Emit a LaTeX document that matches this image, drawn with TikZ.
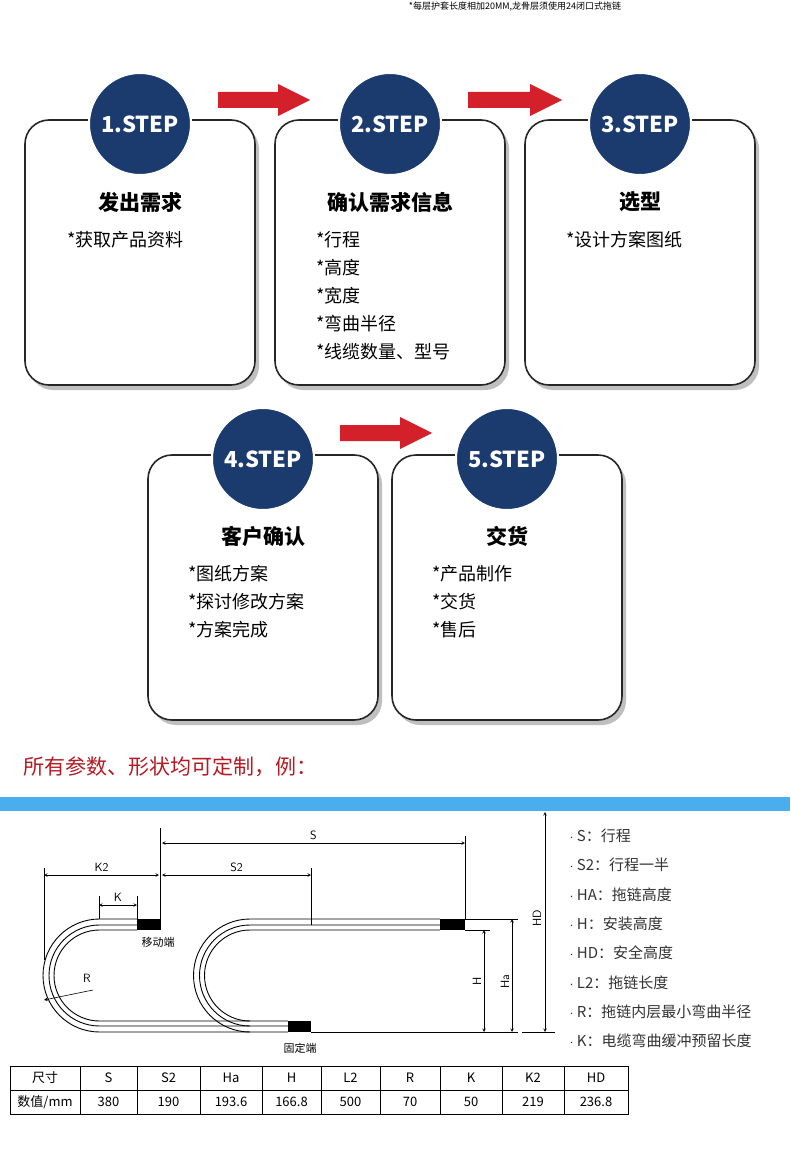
\documentclass[tikz,border=0pt]{standalone}
\usepackage{fontspec}
\setmainfont{Noto Sans CJK SC}
\usepackage{tikz}
\usetikzlibrary{positioning}
\definecolor{stepblue}{HTML}{1B3A6E}
\definecolor{arrowred}{HTML}{D4202A}
\definecolor{barblue}{HTML}{4AAEEE}
\definecolor{listgray}{HTML}{333333}
\tikzset{
  stepbox/.style={draw=black!85, line width=1.6pt, rounded corners=24pt, fill=white},
  stepshadow/.style={fill=black!25, rounded corners=24pt},
  stepcircle/.style={circle, fill=stepblue, draw=white, line width=2pt, minimum size=102pt,
    text=white, font=\fontsize{22}{24}\selectfont\bfseries},
  steptitle/.style={font=\fontsize{21}{24}\selectfont\bfseries},
  stepitem/.style={anchor=west, font=\fontsize{18}{20}\selectfont},
  dim/.style={line width=0.6pt, <->, >=stealth},
  ext/.style={line width=0.6pt},
  rail/.style={line width=0.9pt},
  dimlabel/.style={font=\fontsize{12}{13}\selectfont\sffamily},
  listitem/.style={anchor=west, text=listgray, font=\fontsize{15}{17}\selectfont},
  cell/.style={font=\fontsize{13}{14}\selectfont},
}
\begin{document}
\begin{tikzpicture}[x=1pt, y=-1pt]
  \useasboundingbox[fill=white] (0,0) rectangle (790,1166);
  \node[font=\fontsize{9}{10}\selectfont] (note) at (515,7) {*每层护套长度相加20MM,龙骨层须使用24闭口式拖链};
  % step boxes
  \foreach \n/\x/\y/\cx in {1/25/120/140, 2/275/120/390, 3/525/120/640, 4/148/455/263, 5/392/455/507} {
    \fill[stepshadow] ({\x+4},{\y+5}) rectangle ({\x+234},{\y+270});
    \draw[stepbox] (\x,\y) rectangle ({\x+230},{\y+265});
    \node[stepcircle] (c\n) at (\cx,{\y+4}) {\n.STEP};
  }
  % red arrows
  \foreach \a/\b/\y in {218/310/100, 468/562/100, 340/432/433} {
    \fill[arrowred] (\a,{\y-8}) -- ({\b-32},{\y-8}) -- ({\b-32},{\y-16}) -- (\b,\y)
      -- ({\b-32},{\y+16}) -- ({\b-32},{\y+8}) -- (\a,{\y+8}) -- cycle;
  }
  % titles and items
  \node[steptitle] (t1) at (140,202) {发出需求};
  \node[stepitem] (i1a) at (64,240) {*获取产品资料};
  \node[steptitle] (t2) at (390,202) {确认需求信息};
  \foreach \t [count=\k] in {行程,高度,宽度,弯曲半径,线缆数量、型号}
    \node[stepitem] (i2\k) at (313,{240+28*(\k-1)}) {*\t};
  \node[steptitle] (t3) at (640,202) {选型};
  \node[stepitem] (i3a) at (563,240) {*设计方案图纸};
  \node[steptitle] (t4) at (263,536) {客户确认};
  \foreach \t [count=\k] in {图纸方案,探讨修改方案,方案完成}
    \node[stepitem] (i4\k) at (185,{574+28*(\k-1)}) {*\t};
  \node[steptitle] (t5) at (507,536) {交货};
  \foreach \t [count=\k] in {产品制作,交货,售后}
    \node[stepitem] (i5\k) at (429,{574+28*(\k-1)}) {*\t};
  % custom note and bar
  \node[anchor=west, text=arrowred!85!black, font=\fontsize{21}{24}\selectfont] (custom) at (20,767) {所有参数、形状均可定制，例：};
  \fill[barblue] (0,797) rectangle (790,811);
  % drag chain drawing
  \foreach \r in {56.5,50.5,45.5} {
    \draw[rail] (137,{975.5-\r}) -- (99.5,{975.5-\r}) arc(-90:-270:\r) -- (250,{975.5+\r});
    \draw[rail] (440,{975.5-\r}) -- (250,{975.5-\r}) arc(-90:-270:\r) -- (288,{975.5+\r});
  }
  \fill (137,919) rectangle (160,930);
  \fill (440,919) rectangle (465,930);
  \fill (288,1021) rectangle (311,1032);
  \draw[ext] (311,1032) -- (518,1032);
  \draw[ext] (522,1032) -- (555,1032);
  \draw[ext] (465,919) -- (518,919);
  \draw[ext] (465,930) -- (490,930);
  % extension lines
  \draw[ext] (160,828) -- (160,930);
  \draw[ext] (465,836) -- (465,919);
  \draw[ext] (311,868) -- (311,925);
  \draw[ext] (44,868) -- (44,960);
  \draw[ext] (99,896) -- (99,919);
  \draw[ext] (137,896) -- (137,919);
  % dimensions
  \draw[dim] (162,843) -- node[dimlabel, above] {S} (465,843);
  \draw[dim] (44,875) -- node[dimlabel, above] {K2} (159,875);
  \draw[dim] (162,875) -- node[dimlabel, above] {S2} (311,875);
  \draw[dim] (99,905) -- node[dimlabel, above] {K} (137,905);
  \draw[ext, <-, >=stealth] (44,1000) -- (93,990);
  \node[dimlabel] (rlab) at (87,978) {R};
  \draw[dim] (484,930) -- (484,1032);
  \node[dimlabel, rotate=90] (hlab) at (477,981) {H};
  \draw[dim] (512,919) -- (512,1032);
  \node[dimlabel, rotate=90] (halab) at (505,982) {Ha};
  \draw[dim] (545,812) -- (545,1032);
  \node[dimlabel, rotate=90] (hdlab) at (537,918) {HD};
  \node[font=\fontsize{11}{12}\selectfont] (moving) at (158,942) {移动端};
  \node[font=\fontsize{11}{12}\selectfont] (fixed) at (300,1048) {固定端};
  % parameter list
  \foreach \t [count=\k] in {S：行程, S2：行程一半, HA：拖链高度, H：安装高度, HD：安全高度, L2：拖链长度, R：拖链内层最小弯曲半径, K：电缆弯曲缓冲预留长度}
    \node[listitem] (p\k) at (566,{836+29.3*(\k-1)}) {$\cdot$ \t};
  % table
  \draw[line width=1pt] (10,1066) rectangle (628,1114);
  \draw[line width=0.6pt] (10,1090) -- (628,1090);
  \foreach \a/\b/\h/\v in {10/80/尺寸/{数值/mm}, 80/137/S/380, 137/200/S2/190, 200/262/Ha/193.6, 262/321/H/166.8,
      321/380/L2/500, 380/440/R/70, 440/502/K/50, 502/564/K2/219, 564/628/HD/236.8} {
    \draw[line width=0.6pt] (\b,1066) -- (\b,1114);
    \node[cell] at ({(\a+\b)/2},1078) {\h};
    \node[cell] at ({(\a+\b)/2},1102) {\v};
  }
\end{tikzpicture}
\end{document}
